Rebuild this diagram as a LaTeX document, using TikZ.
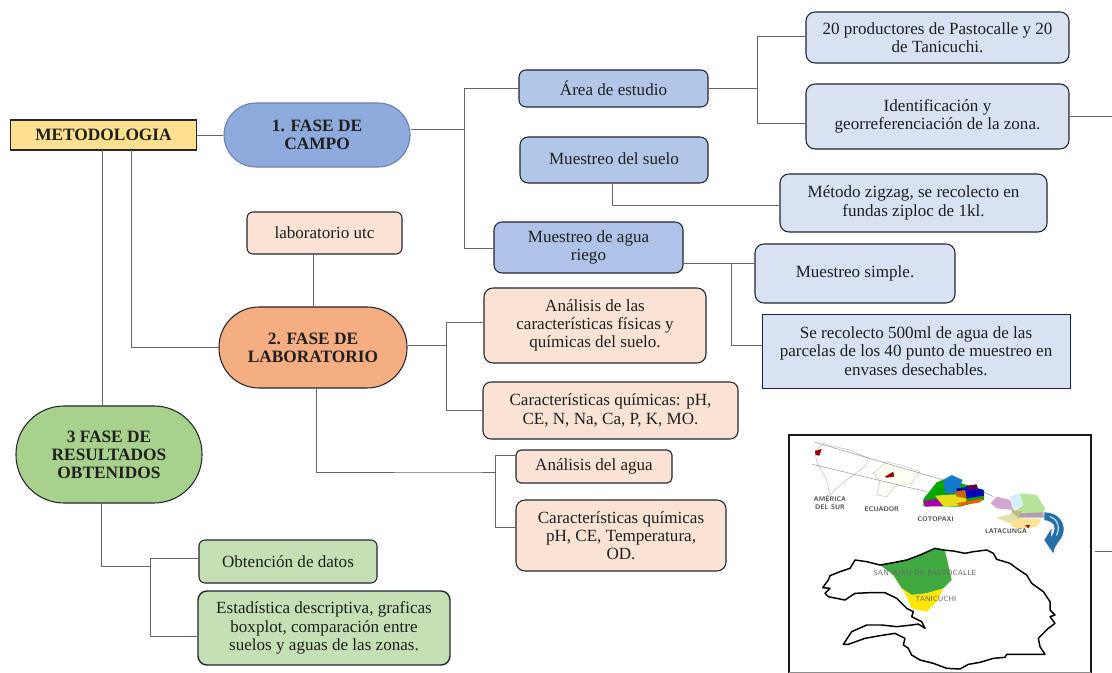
\documentclass[tikz,border=0pt]{standalone}
\usepackage{fontspec}
\setmainfont{Liberation Serif}
\usetikzlibrary{calc}
\definecolor{lnk}{HTML}{666666}
\definecolor{edgeb}{HTML}{22262E}
\definecolor{cYel}{HTML}{FFE08F}
\definecolor{cBlA}{HTML}{8FAADC}
\definecolor{cBlB}{HTML}{B2C6E8}
\definecolor{cBlC}{HTML}{D9E2F3}
\definecolor{cOr}{HTML}{F4AE82}
\definecolor{cPe}{HTML}{FAE3D5}
\definecolor{cGrA}{HTML}{A9D18E}
\definecolor{cGrB}{HTML}{C5E0B4}
\tikzset{
  bx/.style args={#1/#2/#3/#4}{draw=#4,line width=.8pt,inner sep=0pt,align=center,text=black!88,font=\fontsize{12.8}{13.7}\selectfont,
     minimum width=#1*0.75pt,minimum height=#2*0.75pt,rounded corners=#3*0.75pt},
  pill/.style={font=\fontsize{13}{13.5}\selectfont\bfseries},
  lk/.style={draw=lnk,line width=.7pt},
  maptxt/.style={font=\sffamily\bfseries\fontsize{5}{6}\selectfont,text=black!70,inner sep=0pt,align=center},
  mapname/.style={font=\sffamily\fontsize{5.6}{6}\selectfont,text=black!60,inner sep=0pt},
}
\newcommand{\up}[2]{\raisebox{#1}{#2}}
\begin{document}
\begin{tikzpicture}[x=0.75pt,y=-0.75pt]
\useasboundingbox (0,0) rectangle (1112,673);
\fill[white] (0,0) rectangle (1112,673);
% nodes
\node[bx=186/30/0/edgeb,fill=cYel,font=\fontsize{13}{13}\selectfont\bfseries] (met) at (103.5,135) {METODOLOGIA};
\node[bx=186/64/32/cBlA!75!black,fill=cBlA,pill] (f1) at (317,135) {1. FASE DE\\CAMPO};
\node[bx=189/37/7/edgeb,fill=cBlB] (area) at (613.5,88.5) {Área de estudio};
\node[bx=263/51/9/edgeb,fill=cBlC] (prod) at (937.5,37.5) {20 productores de Pastocalle y 20\\de Tanicuchi.};
\node[bx=263/65/9/edgeb,fill=cBlC] (iden) at (937.5,116.5) {Identificación y\\georreferenciación de la zona.};
\node[bx=188/46/8/edgeb,fill=cBlB] (sue) at (614,160) {\up{2pt}{Muestreo del suelo}};
\node[bx=267/58/9/edgeb,fill=cBlC] (zig) at (913.5,203) {Método zigzag, se recolecto en\\fundas ziploc de 1kl.};
\node[bx=189/51/8/edgeb,fill=cBlB!90!cBlA] (agua) at (588.5,247.5) {Muestreo de agua\\riego};
\node[bx=200/59/9/edgeb,fill=cBlC] (sim) at (855,273.5) {\up{-1.5pt}{Muestreo simple.}};
\node[bx=308/74/0/edgeb!80!blue,fill=cBlC,line width=.65pt] (rec) at (916,351) {Se recolecto 500ml de agua de las\\parcelas de los 40 punto de muestreo en\\envases desechables.};
\node[bx=155/42/6/edgeb,fill=cPe] (lab) at (324.5,233) {laboratorio utc};
\node[bx=188/81/40/edgeb,fill=cOr,pill] (f2) at (313,347.5) {2. FASE DE\\LABORATORIO};
\node[bx=222/75/9/edgeb,fill=cPe] (ana) at (595,325.5) {Análisis de las\\características físicas y\\químicas del suelo.};
\node[bx=255/57/8/edgeb,fill=cPe] (car) at (610.5,410.5) {Características químicas: pH,\\CE, N, Na, Ca, P, K, MO.};
\node[bx=156/33/5/edgeb,fill=cPe] (anag) at (594,466.5) {Análisis del agua};
\node[bx=210/71/9/edgeb,fill=cPe] (carq) at (621,535.5) {Características químicas\\pH, CE, Temperatura,\\OD.};
\node[bx=186/97/48/edgeb,fill=cGrA,pill] (f3) at (109,454.5) {3 FASE DE\\RESULTADOS\\OBTENIDOS};
\node[bx=178/43/6/edgeb,fill=cGrB] (obt) at (288,561.5) {Obtención de datos};
\node[bx=252/74/9/edgeb,fill=cGrB,line width=1.05pt] (est) at (324,628) {Estadística descriptiva, graficas\\boxplot, comparación entre\\suelos y aguas de las zonas.};
% free ends
\coordinate (e1) at (1112,116);
\coordinate (e2) at (1112,551);
\coordinate (e2s) at (1095,551);
% connectors
\draw[lk] (met.east) -- (f1.west |- met.east);
\draw[lk] (102.5,150) -- (102.5,406);
\draw[lk] (131,150) |- (f2.west);
\draw[lk] (f1.east |- 0,129) -- (464,129);
\draw[lk] (area.west) -- (464,88.5) -- (464,248) -- (agua.west |- 0,248);
\draw[lk] (area.east) -- (757,88.5);
\draw[lk] (prod.west |- 0,36) -- (757,36) -- (757,123) -- (iden.west |- 0,123);
\draw[lk] (iden.east |- e1) -- (e1);
\draw[lk] (612,183) |- (zig.west |- 0,205);
\draw[lk] (agua.east |- 0,263) -- (sim.west |- 0,263);
\draw[lk] (731,263) |- (rec.west |- 0,345);
\draw[lk] (313.5,254) -- (313.5,307);
\draw[lk] (f2.east |- 0,345) -- (446,345);
\draw[lk] (ana.west |- 0,322) -- (446,322) |- (car.west);
\draw[lk] (316,388) |- (470,472) -- (495,472);
\draw[lk] (anag.west |- 0,455) -- (495,455) |- (carq.west |- 0,527);
\draw[lk] (101,503) |- (150,566);
\draw[lk] (obt.west |- 0,558) -- (150,558) |- (est.west |- 0,636);
\draw[lk] (e2s) -- (e2);
% map figure (drawn directly), coordinates of a 3x enlargement
\begin{scope}[shift={(780,425)},x=0.25pt,y=-0.25pt]
\draw[black!90,line width=1.5pt] (28,748) -- (28,30) -- (932,30) -- (932,748);
\draw[black!45,line width=.5pt] (28,743) -- (932,743);
% south america
\draw[black!30,line width=.3pt,fill=white] (105,80)--(130,55)--(165,65)--(210,75)--(265,100)--(255,125)--(205,160)--(170,190)--(150,212)--(140,165)--(110,110)--cycle;
\fill[red!60!black] (105,78)--(125,72)--(118,92)--(107,90)--cycle;
% Ecuador
\draw[black!25,line width=.3pt,fill=yellow!5] (280,145)--(320,110)--(370,122)--(420,140)--(395,175)--(345,185)--(320,215)--(290,210)--(300,170)--cycle;
\fill[red!60!black] (315,155)--(340,140)--(342,155)--(320,158)--cycle;
\draw[black!40,line width=.4pt] (105,52)--(490,165);
\draw[black!40,line width=.4pt] (97,118)--(440,200);
\draw[black!40,line width=.4pt] (600,195)--(640,215);
% Cotopaxi
\fill[green!65!black] (430,222)--(470,172)--(500,160)--(560,180)--(612,195)--(612,225)--(540,245)--(430,243)--cycle;
\fill[cyan!60!blue] (490,165)--(515,150)--(548,165)--(530,205)--(495,205)--cycle;
\fill[blue!75!black] (530,190)--(570,185)--(610,195)--(612,212)--(560,220)--(530,208)--cycle;
\fill[violet!70!black] (560,182)--(590,178)--(595,195)--(565,195)--cycle;
\fill[yellow!90!black] (465,212)--(530,208)--(560,222)--(555,240)--(490,245)--cycle;
\fill[orange!80!black] (525,200)--(555,195)--(560,220)--(530,215)--cycle;
\fill[violet!70!magenta] (430,228)--(470,222)--(490,243)--(435,245)--cycle;
\fill[orange!70!red] (530,235)--(610,220)--(600,232)--(540,242)--cycle;
% Latacunga
\fill[violet!35] (632,235)--(650,215)--(690,225)--(700,255)--(650,250)--cycle;
\fill[cyan!18] (690,215)--(720,203)--(730,240)--(700,255)--cycle;
\fill[green!45!olive!40] (720,205)--(770,210)--(795,250)--(790,265)--(700,262)--(730,240)--cycle;
\fill[violet!30!gray!60] (715,265)--(790,262)--(792,278)--(715,278)--cycle;
\fill[olive!50!gray!60] (695,255)--(725,258)--(715,285)--(695,280)--cycle;
\fill[olive!25] (650,278)--(700,265)--(715,280)--(690,295)--cycle;
\fill[yellow!50!orange!40] (690,290)--(720,280)--(785,282)--(770,305)--(730,312)--(695,305)--cycle;
\fill[red!65!black] (735,300)--(750,300)--(745,310)--cycle;
% curved blue arrow
\fill[blue!45!cyan!60!black!85] (793,262) .. controls (835,262) and (860,295) .. (848,330) .. controls (840,350) and (825,355) .. (820,385) -- (793,345) -- (815,310) -- (812,338) .. controls (830,315) and (830,290) .. (793,285) -- cycle;
\draw[white!70!cyan,line width=.9pt,line cap=round] (810,275) .. controls (830,280) and (842,305) .. (830,330);
% lower map
\fill[green!55!black!75] (300,420)--(380,405)--(465,370)--(495,378)--(505,420)--(515,465)--(490,490)--(440,505)--(395,510)--(365,490)--(340,450)--cycle;
\fill[yellow!90!orange] (345,460)--(365,490)--(395,510)--(440,505)--(490,490)--(470,530)--(440,560)--(395,550)--(378,510)--cycle;
\draw[black,line width=1.1pt,line join=round] (465,370)--(490,375)--(520,378)--(555,385)--(580,380)--(620,375)--(640,385)--(650,403)--(690,415)--(710,430)--(740,450)--(755,475)--(790,500)--(810,530)--(810,555)--(825,570)--(810,575)--(825,595)--(805,610)--(790,625)--(775,640)--(780,665)--(795,688)--(680,688)--(675,697)--(640,700)--(600,712)--(565,718)--(540,732)--(500,730)--(460,715)--(420,705)--(395,690)--(385,670)--(370,660)--(375,640)--(345,625)--(300,632)--(255,640)--(205,658)--(190,658)--(215,620)--(260,600)--(305,600)--(350,605)--(395,600)--(415,597)--(435,610)--(425,590)--(395,575)--(400,560)--(380,550)--(350,520)--(315,503)--(270,503)--(225,505)--(195,525)--(145,515)--(135,505)--(150,490)--(128,488)--(145,465)--(150,452)--(180,440)--(210,430)--(225,405)--(260,410)--(300,420)--(345,412)--(380,405)--(420,390)--cycle;
\node[maptxt] (m1) at (150,233) {AMÉRICA\\DEL SUR};
\node[maptxt] (m2) at (305,254) {ECUADOR};
\node[maptxt] (m3) at (467,282) {COTOPAXI};
\node[maptxt] (m4) at (678,320) {LATACUNGA};
\node[mapname] (m5) at (435,443) {SAN JUAN DE PASTOCALLE};
\node[mapname] (m6) at (467,522) {TANICUCHI};
\end{scope}
\end{tikzpicture}
\end{document}
